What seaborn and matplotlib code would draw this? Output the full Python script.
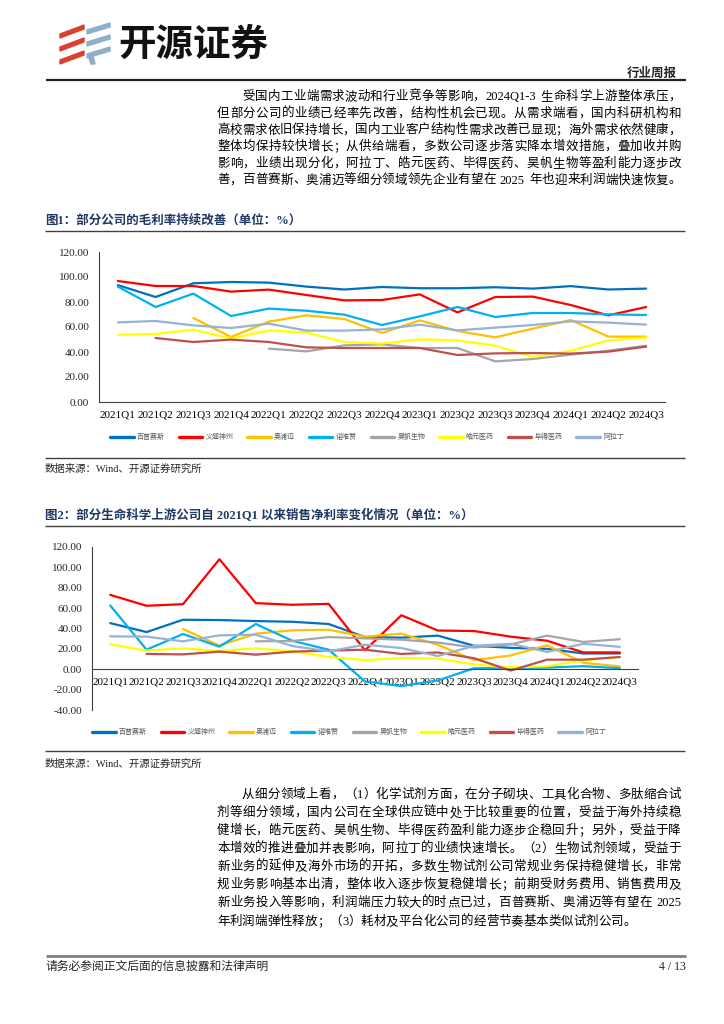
import numpy as np
import pandas as pd
import matplotlib
matplotlib.use("Agg")
import matplotlib.pyplot as plt
import seaborn as sns
from matplotlib.lines import Line2D
from matplotlib.patches import Polygon

sns.set_theme(style="white")
FAM = ["Liberation Serif", "Noto Sans CJK SC", "DejaVu Sans"]
plt.rcParams["font.family"] = FAM
plt.rcParams["axes.unicode_minus"] = False

nan = np.nan
quarters = ["2021Q1", "2021Q2", "2021Q3", "2021Q4", "2022Q1", "2022Q2", "2022Q3", "2022Q4",
            "2023Q1", "2023Q2", "2023Q3", "2023Q4", "2024Q1", "2024Q2", "2024Q3"]
companies = ["百普赛斯", "义翘神州", "奥浦迈", "诺唯赞", "昊帆生物", "皓元医药", "毕得医药", "阿拉丁"]
colors = ["#0070C0", "#FF0000", "#FFC000", "#00B0F0", "#A5A5A5", "#FFFF00", "#C0504D", "#95B3D7"]

# Figure 1: gross margin (%)
gm_baipu = [93.5, 84.0, 95.0, 96.0, 95.5, 92.3, 90.0, 92.0, 91.0, 91.0, 91.8, 90.7, 92.7, 90.0, 90.7]
gm_yiqiao = [96.8, 92.8, 92.8, 88.3, 89.9, 85.6, 81.3, 81.6, 86.1, 71.7, 84.0, 84.3, 77.6, 69.3, 76.0]
gm_aopumai = [nan, nan, 67.2, 52.0, 64.3, 69.3, 66.4, 55.2, 65.3, 56.8, 51.7, 58.7, 65.6, 52.3, 52.3]
gm_nuoweizan = [92.3, 76.0, 86.7, 68.8, 74.7, 73.0, 69.9, 61.6, 68.5, 76.0, 68.0, 71.2, 71.2, 70.1, 69.6]
gm_haofan = [nan, nan, nan, nan, 42.7, 40.5, 45.3, 46.1, 43.2, 43.2, 32.5, 34.4, 37.9, 41.0, 45.0]
gm_haoyuan = [53.9, 54.4, 57.9, 50.7, 57.3, 55.5, 48.0, 46.7, 50.1, 49.3, 45.0, 36.0, 41.0, 49.3, 51.5]
gm_bide = [nan, 51.2, 48.0, 49.9, 48.0, 43.7, 43.2, 43.2, 43.2, 37.6, 38.9, 39.2, 38.7, 40.3, 44.3]
gm_aladdin = [63.7, 64.8, 61.3, 59.2, 62.7, 57.1, 57.1, 58.1, 61.9, 57.3, 59.5, 61.6, 64.5, 63.5, 61.9]

# Figure 2: net margin (%)
nm_baipu = [45.3, 36.5, 48.6, 48.3, 47.3, 46.6, 44.4, 31.6, 31.0, 33.0, 23.0, 21.0, 20.0, 15.5, 15.5]
nm_yiqiao = [73.0, 62.3, 63.9, 108.0, 64.9, 63.3, 64.2, 18.6, 53.0, 38.0, 37.5, 32.0, 28.0, 16.5, 16.5]
nm_aopumai = [nan, nan, 39.5, 23.2, 34.9, 38.2, 38.8, 32.0, 35.0, 24.0, 9.0, 13.5, 23.5, 6.3, 2.8]
nm_nuoweizan = [62.6, 19.2, 34.6, 22.2, 44.4, 28.0, 19.2, -12.0, -16.5, -11.0, 1.0, 1.0, 1.6, 3.0, 1.0]
nm_haofan = [nan, nan, nan, nan, 27.4, 27.7, 31.6, 30.3, 29.0, 26.2, 21.3, 24.3, 33.0, 26.8, 29.5]
nm_haoyuan = [24.5, 18.3, 20.5, 17.9, 20.5, 17.6, 12.0, 9.0, 11.0, 10.6, 4.7, 1.8, 3.0, 8.5, 12.3]
nm_bide = [nan, 15.0, 14.6, 17.3, 14.3, 17.3, 18.3, 19.2, 15.0, 16.5, 10.8, -1.3, 9.4, 9.4, 12.0]
nm_aladdin = [32.3, 32.0, 27.4, 33.3, 33.9, 22.8, 17.6, 24.1, 20.8, 13.0, 23.0, 25.0, 17.0, 25.0, 22.0]

gm_series = [gm_baipu, gm_yiqiao, gm_aopumai, gm_nuoweizan, gm_haofan, gm_haoyuan, gm_bide, gm_aladdin]
nm_series = [nm_baipu, nm_yiqiao, nm_aopumai, nm_nuoweizan, nm_haofan, nm_haoyuan, nm_bide, nm_aladdin]

para1 = [
    "受国内工业端需求波动和行业竞争等影响，2024Q1-3 生命科学上游整体承压，",
    "但部分公司的业绩已经率先改善，结构性机会已现。从需求端看，国内科研机构和",
    "高校需求依旧保持增长，国内工业客户结构性需求改善已显现；海外需求依然健康，",
    "整体均保持较快增长；从供给端看，多数公司逐步落实降本增效措施，叠加收并购",
    "影响，业绩出现分化，阿拉丁、皓元医药、毕得医药、昊帆生物等盈利能力逐步改",
    "善，百普赛斯、奥浦迈等细分领域领先企业有望在 2025 年也迎来利润端快速恢复。",
]
para2 = [
    "从细分领域上看，（1）化学试剂方面，在分子砌块、工具化合物、多肽缩合试",
    "剂等细分领域，国内公司在全球供应链中处于比较重要的位置，受益于海外持续稳",
    "健增长，皓元医药、昊帆生物、毕得医药盈利能力逐步企稳回升；另外，受益于降",
    "本增效的推进叠加并表影响，阿拉丁的业绩快速增长。（2）生物试剂领域，受益于",
    "新业务的延伸及海外市场的开拓，多数生物试剂公司常规业务保持稳健增长，非常",
    "规业务影响基本出清，整体收入逐步恢复稳健增长；前期受财务费用、销售费用及",
    "新业务投入等影响，利润端压力较大的时点已过，百普赛斯、奥浦迈等有望在 2025",
    "年利润端弹性释放；（3）耗材及平台化公司的经营节奏基本类似试剂公司。",
]
title1 = "图1：部分公司的毛利率持续改善（单位：%）"
title2 = "图2：部分生命科学上游公司自 2021Q1 以来销售净利率变化情况（单位：%）"
source = "数据来源：Wind、开源证券研究所"

W, H = 724, 1024
fig = plt.figure(figsize=(W / 100, H / 100), dpi=100)
fig.patch.set_facecolor("white")


def fx(x):
    return x / W


def fy(y):
    return 1 - y / H


def hline(y, x0, x1, lw, color):
    fig.add_artist(Line2D([fx(x0), fx(x1)], [fy(y), fy(y)], transform=fig.transFigure,
                          color=color, lw=lw, solid_capstyle="butt"))


def make_df(series):
    rows = []
    for name, vals in zip(companies, series):
        for i, v in enumerate(vals):
            rows.append({"idx": i, "company": name, "value": v})
    return pd.DataFrame(rows).dropna()


palette = dict(zip(companies, colors))


def draw_chart(ax, series, ylim, yticks):
    df = make_df(series)
    sns.lineplot(data=df, x="idx", y="value", hue="company", hue_order=companies,
                 palette=palette, ax=ax, legend=False, linewidth=1.6, estimator=None,
                 sort=False)
    ax.set_xlim(-0.5, len(quarters) - 0.5)
    ax.set_ylim(*ylim)
    ax.set_yticks(yticks)
    ax.set_yticklabels([f"{t:.2f}" for t in yticks])
    ax.set_xticks(range(len(quarters)))
    ax.set_xticklabels(quarters)
    ax.set_xticks(np.arange(0.5, len(quarters) - 0.5, 1.0), minor=True)
    ax.set_xlabel("")
    ax.set_ylabel("")
    ax.grid(False)
    for s in ["top", "right"]:
        ax.spines[s].set_visible(False)
    for s in ["left", "bottom"]:
        ax.spines[s].set_color("#404040")
        ax.spines[s].set_linewidth(0.8)
    ax.tick_params(axis="x", which="major", length=0, labelsize=8, colors="black")
    ax.tick_params(axis="x", which="minor", direction="in", length=3.5, width=0.7,
                   color="#404040")
    ax.tick_params(axis="y", which="major", direction="in", length=3, width=0.7,
                   color="#404040", labelsize=8, pad=7)
    for lab in ax.get_xticklabels() + ax.get_yticklabels():
        lab.set_family(["Liberation Serif"])
    ax.set_facecolor("none")


# ---------- chart 1 ----------
ax1 = fig.add_axes([fx(99), fy(402), fx(665) - fx(99), fy(252) - fy(402)])
draw_chart(ax1, gm_series, (0, 120), [0, 20, 40, 60, 80, 100, 120])
ax1.tick_params(axis="x", which="major", pad=6)

# ---------- chart 2 ----------
ax2 = fig.add_axes([fx(92), fy(710), fx(638) - fx(92), fy(547) - fy(710)])
draw_chart(ax2, nm_series, (-40, 120), [-40, -20, 0, 20, 40, 60, 80, 100, 120])
ax2.spines["bottom"].set_position(("data", 0))
ax2.tick_params(axis="x", which="major", pad=6)

handles = [Line2D([], [], color=c, lw=2.4) for c in colors]
for lx, ly in [(110, 437), (92, 732)]:
    leg = fig.legend(handles, companies, ncol=8, loc="center left",
                     bbox_to_anchor=(fx(lx), fy(ly)), frameon=False, fontsize=5,
                     handlelength=3.4, handletextpad=0.45, columnspacing=2.0,
                     borderpad=0, borderaxespad=0,
                     prop={"family": ["Noto Sans CJK SC"], "size": 5})
    for t in leg.get_texts():
        t.set_color("#595959")

# ---------- page text ----------
renderer = fig.canvas.get_renderer()


def tokenize(s):
    toks, buf = [], ""
    for ch in s:
        if ord(ch) < 128 and ch != " ":
            buf += ch
        else:
            if buf:
                toks.append(buf)
                buf = ""
            toks.append(ch)
    if buf:
        toks.append(buf)
    return toks


def put_line(s, x0, x1, y, size, justify=True, color="black", weight="normal"):
    toks = tokenize(s)
    arts, widths = [], []
    for tk in toks:
        if tk == " ":
            arts.append(None)
            widths.append(size * 100 / 72 * 0.3)
            continue
        t = fig.text(0, fy(y), tk, fontsize=size, family=FAM, va="center", ha="left",
                     color=color, fontweight=weight)
        arts.append(t)
        widths.append(t.get_window_extent(renderer).width)
    total = sum(widths)
    gap = (x1 - x0 - total) / (len(toks) - 1) if (justify and len(toks) > 1) else 0
    x = x0
    for a, w in zip(arts, widths):
        if a is not None:
            a.set_x(fx(x))
        x += w + gap


# logo icon
red = "#D8412F"
blue = "#8FAFC8"
for k, yc in enumerate([31, 44, 57]):
    fig.add_artist(Polygon([(fx(60), fy(yc + 3)), (fx(84), fy(yc - 6)), (fx(84), fy(yc - 2)),
                            (fx(60), fy(yc + 7))], closed=True, transform=fig.transFigure,
                           color=red))
for k, yc in enumerate([27, 39, 51]):
    fig.add_artist(Polygon([(fx(87), fy(yc + 3)), (fx(110), fy(yc - 4)), (fx(110), fy(yc)),
                            (fx(87), fy(yc + 7))], closed=True, transform=fig.transFigure,
                           color=blue))
fig.add_artist(Polygon([(fx(88), fy(55)), (fx(93), fy(55)), (fx(95), fy(64)), (fx(91), fy(64))],
                       closed=True, transform=fig.transFigure, color=blue))
fig.text(fx(118), fy(44), "开源证券", fontsize=27, family=["Noto Sans CJK SC"],
         fontweight="bold", va="center", ha="left", color="#111111")

fig.text(fx(677), fy(73), "行业周报", fontsize=9, family=["Noto Sans CJK SC"],
         fontweight="bold", va="center", ha="right")
hline(80, 46, 686, 1.6, "#222222")

ys1 = [97, 114, 130.5, 147, 164, 180.5]
for i, (s, y) in enumerate(zip(para1, ys1)):
    put_line(s, 242 if i == 0 else 217, 681, y, 9)

fig.text(fx(45), fy(221), title1, fontsize=9, family=FAM, fontweight="bold",
         color="#1F3864", va="center", ha="left")
hline(231, 45, 685, 1.0, "#404040")
hline(458, 45, 685, 1.0, "#404040")
fig.text(fx(45), fy(469), source, fontsize=7.5, family=FAM, va="center", ha="left")

fig.text(fx(45), fy(516), title2, fontsize=9, family=FAM, fontweight="bold",
         color="#1F3864", va="center", ha="left")
hline(526, 45, 685, 1.0, "#404040")
hline(751, 45, 685, 1.0, "#404040")
fig.text(fx(45), fy(764), source, fontsize=7.5, family=FAM, va="center", ha="left")

ys2 = [795, 813, 831, 849, 867, 885, 903, 922]
for i, (s, y) in enumerate(zip(para2, ys2)):
    put_line(s, 242 if i == 0 else 217, 681, y, 9, justify=(i < len(para2) - 1))

hline(956, 46, 686, 2.0, "#7F7F7F")
fig.text(fx(46), fy(967), "请务必参阅正文后面的信息披露和法律声明", fontsize=8.5, family=FAM,
         va="center", ha="left")
fig.text(fx(686), fy(967), "4 / 13", fontsize=8.5, family=FAM, va="center", ha="right")

fig.savefig("out.png", dpi=100, facecolor="white")
